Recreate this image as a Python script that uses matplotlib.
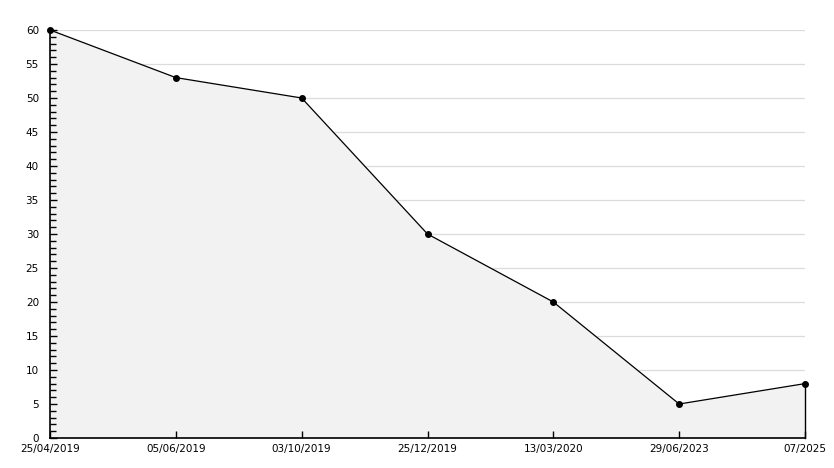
import matplotlib.pyplot as plt
from matplotlib.ticker import MultipleLocator
from matplotlib.transforms import ScaledTranslation

dates = ['25/04/2019', '05/06/2019', '03/10/2019', '25/12/2019',
         '13/03/2020', '29/06/2023', '07/2025']
values = [60, 53, 50, 30, 20, 5, 8]
grid_levels = list(range(5, 65, 5))

fig = plt.figure(figsize=(8.34, 4.68), dpi=100)
ax = fig.add_axes([50 / 834, 1 - 438 / 468, 755 / 834, 408 / 468])

x = list(range(len(dates)))
# grid under the fill
for g in grid_levels:
    ax.axhline(g, color='#dcdcdc', lw=0.9, zorder=0)
ax.fill_between(x, values, 0, color='#f2f2f2', zorder=1)
ax.plot([x[-1], x[-1]], [0, values[-1]], color='black', lw=1, zorder=3, clip_on=False)
ax.plot(x, values, color='black', lw=0.9, marker='o', markersize=4, zorder=4, clip_on=False)

ax.set_xlim(0, len(dates) - 1)
ax.set_ylim(0, 60)
ax.yaxis.set_major_locator(MultipleLocator(5))
ax.yaxis.set_minor_locator(MultipleLocator(1))
ax.set_xticks(x)
ax.set_xticklabels(dates)

for s in ['top', 'right']:
    ax.spines[s].set_visible(False)
for s in ['left', 'bottom']:
    ax.spines[s].set_linewidth(1.2)
    ax.spines[s].set_zorder(5)

ax.tick_params(axis='y', which='major', direction='in', length=5, width=1, labelsize=7.5, pad=8)
ax.tick_params(axis='y', which='minor', direction='in', length=4, width=1)
ax.tick_params(axis='x', direction='in', length=5, width=1, labelsize=7.5, pad=4)
for t in ax.yaxis.get_major_ticks() + ax.yaxis.get_minor_ticks() + ax.xaxis.get_major_ticks():
    t.tick1line.set_zorder(5)
ax.set_axisbelow(False)

# nudge the "0" label up a little so it clears the first date
fig.canvas.draw()
ylabels = ax.get_yticklabels()
ylabels[0].set_transform(ylabels[0].get_transform() +
                         ScaledTranslation(0, 2 / 72, fig.dpi_scale_trans))

fig.savefig('out.png', dpi=100)
